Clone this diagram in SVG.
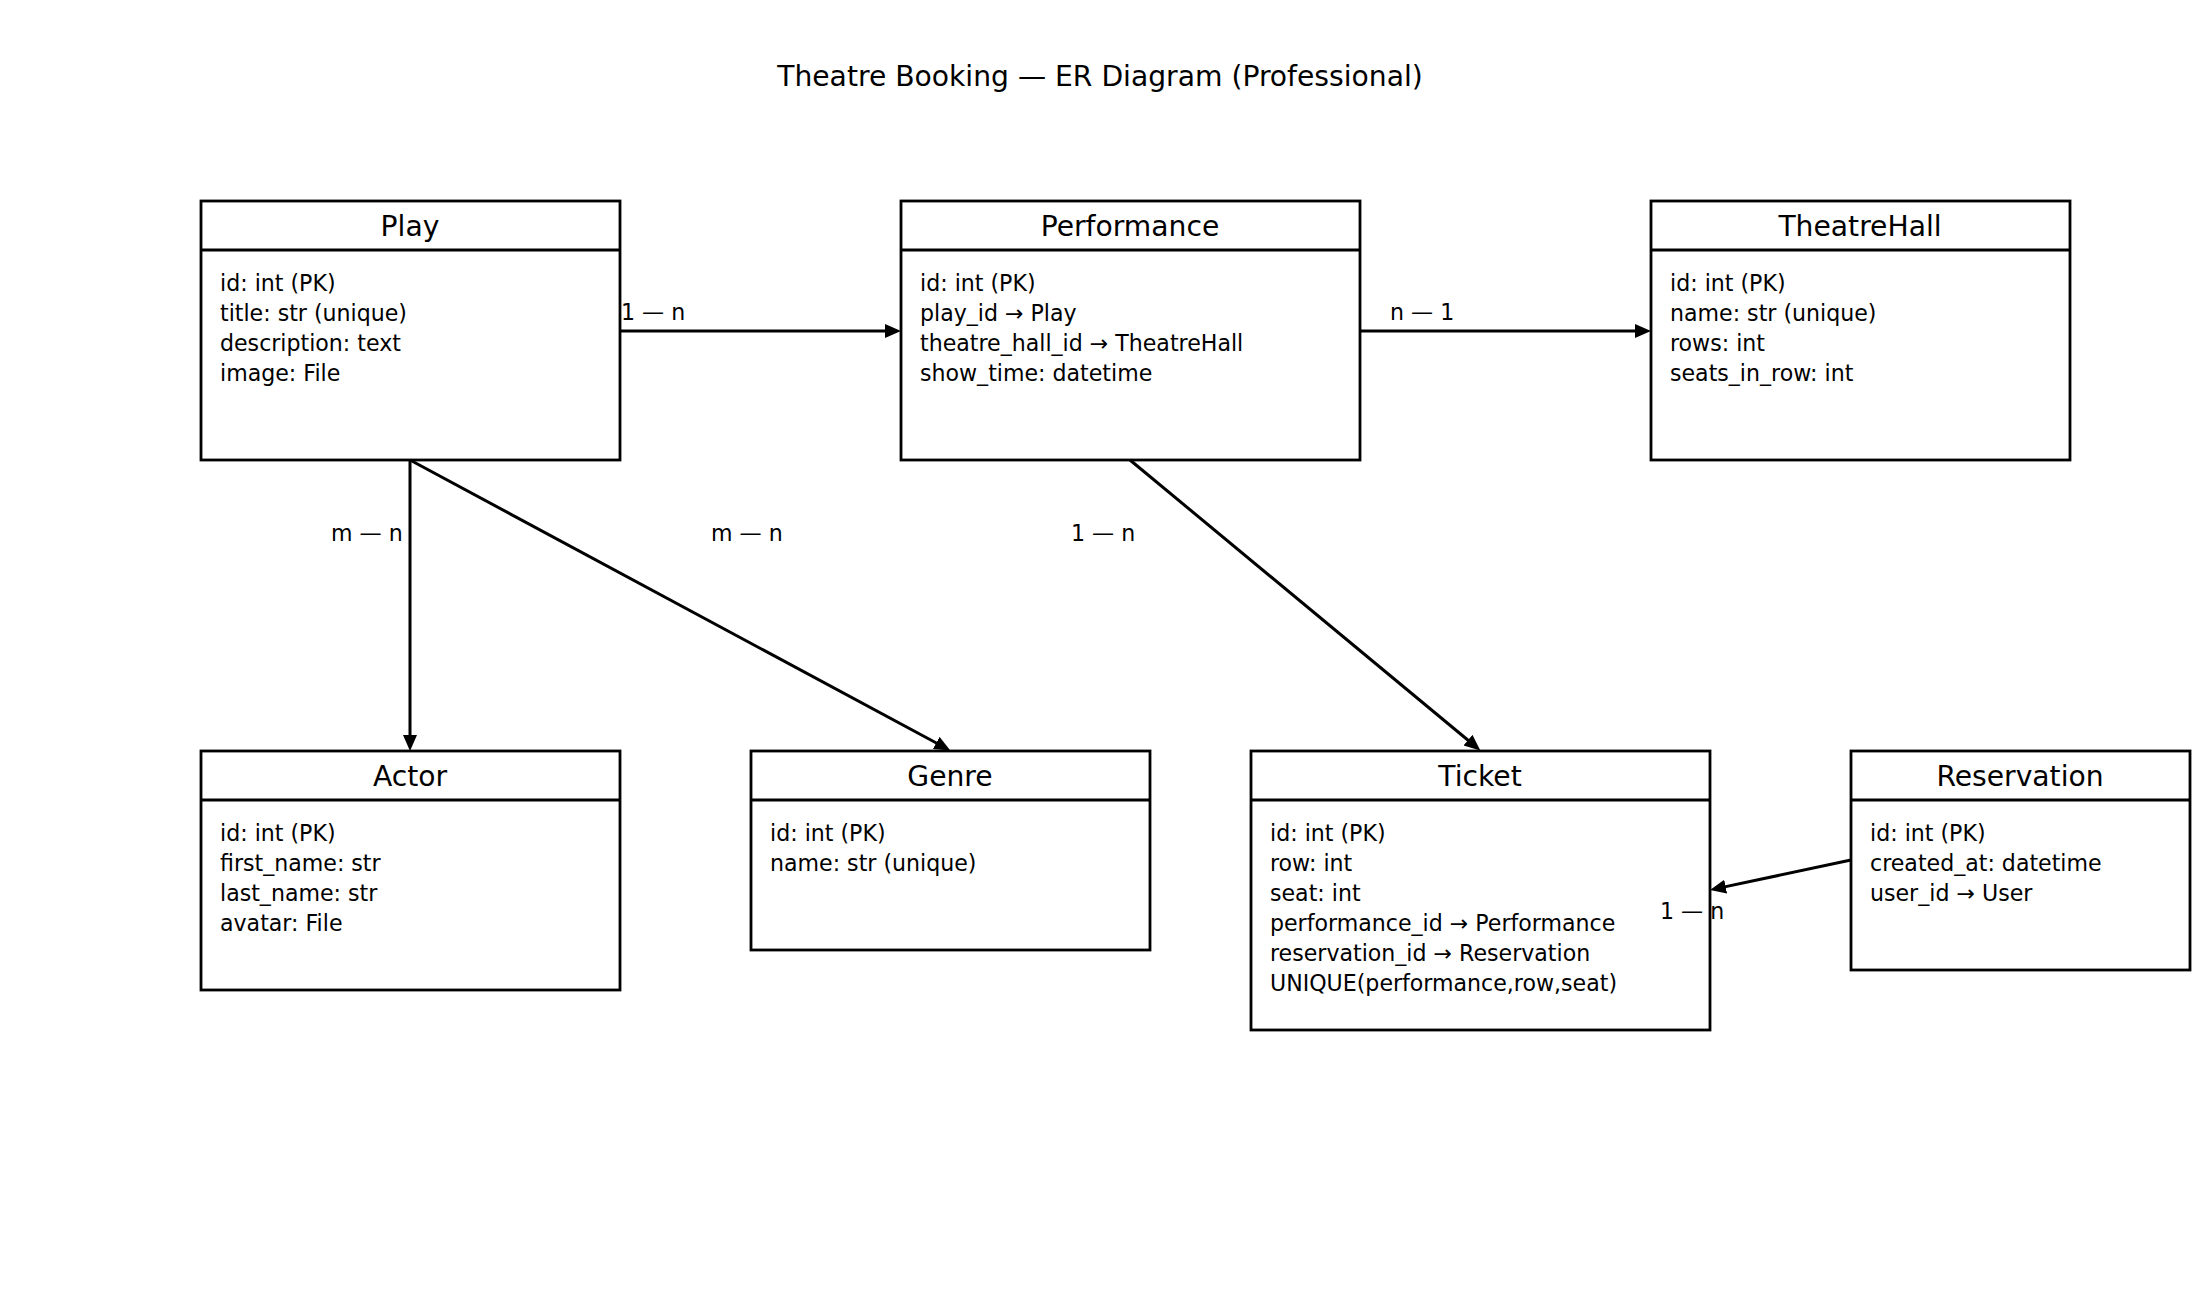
<svg xmlns="http://www.w3.org/2000/svg" width="2200" height="1300" viewBox="0 0 2200 1300">
<defs>
<style>
text{font-family:"DejaVu Sans","Liberation Sans",sans-serif;fill:#000}
.title{font-size:28.2px;text-anchor:middle}
.hdr{font-size:28.2px;text-anchor:middle}
.f{font-size:22.1px}
.box{fill:#fff;stroke:#000;stroke-width:2.8}
.div{stroke:#000;stroke-width:2.8}
.c{stroke:#000;stroke-width:3;fill:none;marker-end:url(#ah)}
.lbl{font-size:22.1px}
</style>
<marker id="ah" markerUnits="userSpaceOnUse" markerWidth="18" markerHeight="16" refX="6" refY="7" orient="auto" viewBox="0 0 18 16">
<path d="M0,0 L16,7 L0,14 z" fill="#000"/>
</marker>
</defs>
<rect width="2200" height="1300" fill="#fff"/>
<text class="title" x="1100" y="86">Theatre Booking — ER Diagram (Professional)</text>

<g id="Play">
<rect class="box" x="201" y="201" width="419" height="259"/>
<line class="div" x1="201" y1="250" x2="620" y2="250"/>
<text class="hdr" x="410" y="236">Play</text>
<text class="f" x="220" y="291">id: int (PK)</text>
<text class="f" x="220" y="321">title: str (unique)</text>
<text class="f" x="220" y="351">description: text</text>
<text class="f" x="220" y="381">image: File</text>
</g>

<g id="Performance">
<rect class="box" x="901" y="201" width="459" height="259"/>
<line class="div" x1="901" y1="250" x2="1360" y2="250"/>
<text class="hdr" x="1130" y="236">Performance</text>
<text class="f" x="920" y="291">id: int (PK)</text>
<text class="f" x="920" y="321">play_id → Play</text>
<text class="f" x="920" y="351">theatre_hall_id → TheatreHall</text>
<text class="f" x="920" y="381">show_time: datetime</text>
</g>

<g id="TheatreHall">
<rect class="box" x="1651" y="201" width="419" height="259"/>
<line class="div" x1="1651" y1="250" x2="2070" y2="250"/>
<text class="hdr" x="1860" y="236">TheatreHall</text>
<text class="f" x="1670" y="291">id: int (PK)</text>
<text class="f" x="1670" y="321">name: str (unique)</text>
<text class="f" x="1670" y="351">rows: int</text>
<text class="f" x="1670" y="381">seats_in_row: int</text>
</g>

<g id="Actor">
<rect class="box" x="201" y="751" width="419" height="239"/>
<line class="div" x1="201" y1="800" x2="620" y2="800"/>
<text class="hdr" x="410" y="786">Actor</text>
<text class="f" x="220" y="841">id: int (PK)</text>
<text class="f" x="220" y="871">first_name: str</text>
<text class="f" x="220" y="901">last_name: str</text>
<text class="f" x="220" y="931">avatar: File</text>
</g>

<g id="Genre">
<rect class="box" x="751" y="751" width="399" height="199"/>
<line class="div" x1="751" y1="800" x2="1150" y2="800"/>
<text class="hdr" x="950" y="786">Genre</text>
<text class="f" x="770" y="841">id: int (PK)</text>
<text class="f" x="770" y="871">name: str (unique)</text>
</g>

<g id="Ticket">
<rect class="box" x="1251" y="751" width="459" height="279"/>
<line class="div" x1="1251" y1="800" x2="1710" y2="800"/>
<text class="hdr" x="1480" y="786">Ticket</text>
<text class="f" x="1270" y="841">id: int (PK)</text>
<text class="f" x="1270" y="871">row: int</text>
<text class="f" x="1270" y="901">seat: int</text>
<text class="f" x="1270" y="931">performance_id → Performance</text>
<text class="f" x="1270" y="961">reservation_id → Reservation</text>
<text class="f" x="1270" y="991">UNIQUE(performance,row,seat)</text>
</g>

<g id="Reservation">
<rect class="box" x="1851" y="751" width="339" height="219"/>
<line class="div" x1="1851" y1="800" x2="2190" y2="800"/>
<text class="hdr" x="2020" y="786">Reservation</text>
<text class="f" x="1870" y="841">id: int (PK)</text>
<text class="f" x="1870" y="871">created_at: datetime</text>
<text class="f" x="1870" y="901">user_id → User</text>
</g>

<g id="connectors">
<line class="c" x1="620" y1="331" x2="891" y2="331"/>
<line class="c" x1="1360" y1="331" x2="1641" y2="331"/>
<line class="c" x1="410" y1="460" x2="410" y2="741"/>
<line class="c" x1="410" y1="460" x2="941.5" y2="745.8"/>
<line class="c" x1="1130" y1="460" x2="1472.6" y2="744"/>
<line class="c" x1="1851" y1="860" x2="1719.8" y2="887.9"/>
<text class="lbl" x="621" y="320">1 — n</text>
<text class="lbl" x="1390" y="320">n — 1</text>
<text class="lbl" x="331" y="541">m — n</text>
<text class="lbl" x="711" y="541">m — n</text>
<text class="lbl" x="1071" y="541">1 — n</text>
<text class="lbl" x="1660" y="919">1 — n</text>
</g>
</svg>
